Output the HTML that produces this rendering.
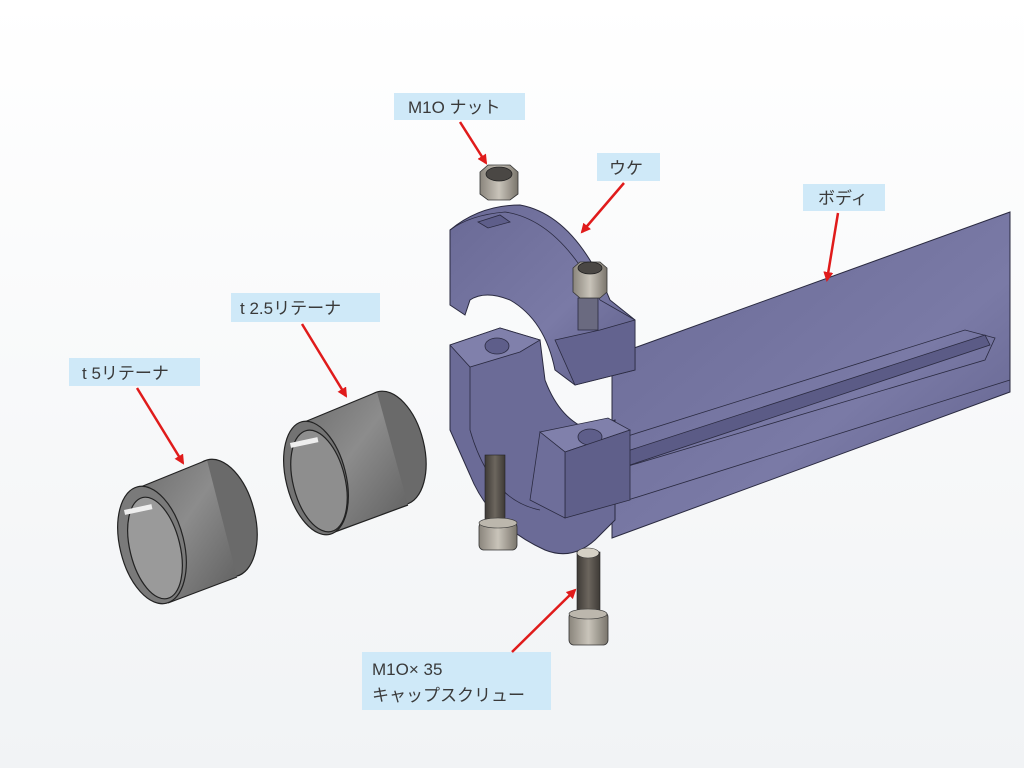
<!DOCTYPE html>
<html><head><meta charset="utf-8"><style>
html,body{margin:0;padding:0;background:#fff;}
svg{display:block}
text{font-family:"Liberation Sans","Noto Sans CJK JP",sans-serif;fill:#3a3a3a;font-size:17px}
</style></head><body>
<svg width="1024" height="768" viewBox="0 0 1024 768" xmlns="http://www.w3.org/2000/svg">
<defs>
<linearGradient id="bg" x1="0" y1="0" x2="0" y2="1"><stop offset="0" stop-color="#ffffff"/><stop offset="1" stop-color="#f1f3f5"/></linearGradient>
<linearGradient id="cyl" x1="0" y1="0" x2="1" y2="1"><stop offset="0" stop-color="#6e6e6e"/><stop offset="0.45" stop-color="#8c8c8c"/><stop offset="1" stop-color="#5e5e5e"/></linearGradient>
<linearGradient id="body" x1="0" y1="0" x2="1" y2="1"><stop offset="0" stop-color="#6a6a96"/><stop offset="0.6" stop-color="#7a7aa6"/><stop offset="1" stop-color="#5d5d88"/></linearGradient>
<linearGradient id="scr" x1="0" y1="0" x2="1" y2="0"><stop offset="0" stop-color="#3e3a36"/><stop offset="0.5" stop-color="#6c665e"/><stop offset="1" stop-color="#3e3a36"/></linearGradient>
<linearGradient id="head" x1="0" y1="0" x2="1" y2="0"><stop offset="0" stop-color="#8a857c"/><stop offset="0.5" stop-color="#c9c4ba"/><stop offset="1" stop-color="#7a756c"/></linearGradient>
<marker id="ah" markerWidth="10" markerHeight="10" refX="8" refY="5" orient="auto" markerUnits="userSpaceOnUse"><path d="M0,0 L10,5 L0,10 z" fill="#e01b1b"/></marker>
</defs>
<rect width="1024" height="768" fill="url(#bg)"/>

<!-- body beam -->
<path d="M612,356 L1010,212 L1010,392 L612,538 Z" fill="url(#body)" stroke="#2a2a40" stroke-width="1"/>
<path d="M615,455 L985,335 L990,345 L615,470 Z" fill="#5b5b86" stroke="#2a2a40" stroke-width="0.8"/>
<path d="M615,440 L965,330 L995,338 L985,360 L615,470" fill="none" stroke="#2a2a40" stroke-width="0.8"/>
<path d="M612,505 L1010,380" stroke="#2a2a40" stroke-width="0.8"/>

<!-- lower clamp -->
<path d="M450,345 L500,328 L540,340 L545,380 Q560,420 590,430 L615,420 L615,520 L600,535 Q575,562 545,550 Q490,525 470,475 L450,430 Z" fill="#6b6b97" stroke="#2a2a40" stroke-width="1"/>
<path d="M450,345 L500,328 L540,340 L520,352 L470,367 Z" fill="#8080ab" stroke="#2a2a40" stroke-width="0.8"/>
<ellipse cx="497" cy="346" rx="12" ry="8" fill="#5e5e8a" stroke="#2a2a40" stroke-width="0.8"/>
<path d="M470,367 L470,430 Q490,500 540,510" fill="none" stroke="#2a2a40" stroke-width="0.8"/>
<path d="M540,432 L608,418 L630,430 L565,452 Z" fill="#8080ab" stroke="#2a2a40" stroke-width="0.8"/>
<ellipse cx="590" cy="437" rx="12" ry="8" fill="#5e5e8a" stroke="#2a2a40" stroke-width="0.8"/>
<path d="M565,452 L630,430 L630,500 L565,518 Z" fill="#5f5f8a" stroke="#2a2a40" stroke-width="0.8"/>
<path d="M540,432 L565,452 L565,518 L530,500 Z" fill="#6e6e9a" stroke="#2a2a40" stroke-width="0.8"/>

<!-- upper clamp (ウケ) -->
<path d="M450,230 Q480,205 520,205 Q575,215 610,300 L635,320 L635,370 L575,385 L555,370 Q545,320 510,300 Q485,290 470,300 L465,315 L450,305 Z" fill="url(#body)" stroke="#2a2a40" stroke-width="1"/>
<path d="M450,230 Q470,215 505,212 Q560,220 600,300 L635,320" fill="none" stroke="#2a2a40" stroke-width="0.8"/>
<path d="M478,222 L500,215 L510,222 L488,228 Z" fill="#5e5e8a" stroke="#2a2a40" stroke-width="0.8"/>
<path d="M555,340 L600,330 L635,320 L635,370 L575,385 Z" fill="#63638f" stroke="#2a2a40" stroke-width="0.8"/>
<path d="M578,298 L598,298 L598,330 L578,330 Z" fill="#6a6a80" stroke="#2a2a40" stroke-width="0.8"/>
<path d="M573,268 L580,262 L600,262 L607,268 L607,292 L600,298 L580,298 L573,292 Z" fill="url(#head)" stroke="#333" stroke-width="0.8"/>
<ellipse cx="590" cy="268" rx="12" ry="6" fill="#4a4744" stroke="#222" stroke-width="0.8"/>

<!-- top nut -->
<path d="M480,172 L488,165 L510,165 L518,172 L518,194 L510,200 L488,200 L480,194 Z" fill="url(#head)" stroke="#333" stroke-width="0.8"/>
<ellipse cx="499" cy="174" rx="13" ry="7" fill="#4a4744" stroke="#222" stroke-width="0.8"/>

<!-- screws -->
<rect x="485" y="455" width="20" height="68" fill="url(#scr)" stroke="#222" stroke-width="0.6"/>
<rect x="479" y="522" width="38" height="28" rx="5" fill="url(#head)" stroke="#333" stroke-width="0.8"/>
<ellipse cx="498" cy="523" rx="19" ry="5" fill="#bcb7ad" stroke="#333" stroke-width="0.6"/>
<rect x="577" y="552" width="23" height="64" fill="url(#scr)" stroke="#222" stroke-width="0.6"/>
<ellipse cx="588" cy="553" rx="11" ry="5" fill="#d6d1c6" stroke="#333" stroke-width="0.6"/>
<rect x="569" y="612" width="39" height="33" rx="5" fill="url(#head)" stroke="#333" stroke-width="0.8"/>
<ellipse cx="588" cy="614" rx="19" ry="5" fill="#bcb7ad" stroke="#333" stroke-width="0.6"/>

<!-- t5 retainer -->
<g stroke="#222" stroke-width="1.2">
<ellipse cx="222" cy="518" rx="33" ry="60" transform="rotate(-14 222 518)" fill="#6a6a6a"/>
<path d="M138,488 L207,460 L237,577 L168,603 Z" fill="url(#cyl)" stroke="none"/>
<line x1="138" y1="488" x2="207" y2="460"/><line x1="168" y1="603" x2="237" y2="577"/>
<ellipse cx="152" cy="545" rx="32" ry="60" transform="rotate(-14 152 545)" fill="#7a7a7a"/>
<ellipse cx="155" cy="548" rx="25" ry="52" transform="rotate(-14 155 548)" fill="#9a9a9a"/>
</g>
<rect x="124" y="510" width="28" height="5" fill="#eee" transform="rotate(-12 124 510)"/>

<!-- t2.5 retainer -->
<g stroke="#222" stroke-width="1.2">
<ellipse cx="392" cy="448" rx="32" ry="58" transform="rotate(-14 392 448)" fill="#6a6a6a"/>
<path d="M302,423 L377,392 L408,505 L332,533 Z" fill="url(#cyl)" stroke="none"/>
<line x1="302" y1="423" x2="377" y2="392"/><line x1="332" y1="533" x2="408" y2="505"/>
<ellipse cx="316" cy="478" rx="30" ry="58" transform="rotate(-14 316 478)" fill="#737373"/>
<ellipse cx="319" cy="481" rx="26" ry="52" transform="rotate(-14 319 481)" fill="#8e8e8e"/>
</g>
<rect x="290" y="443" width="28" height="5" fill="#eee" transform="rotate(-12 290 443)"/>

<!-- labels -->
<rect x="394" y="93" width="131" height="27" fill="#cfe9f8"/>
<text x="408" y="113">M1O ナット</text>
<rect x="597" y="153" width="63" height="28" fill="#cfe9f8"/>
<text x="609" y="174">ウケ</text>
<rect x="803" y="184" width="82" height="27" fill="#cfe9f8"/>
<text x="818" y="204">ボディ</text>
<rect x="231" y="293" width="149" height="29" fill="#cfe9f8"/>
<text x="240" y="314">t 2.5リテーナ</text>
<rect x="69" y="358" width="131" height="28" fill="#cfe9f8"/>
<text x="82" y="379">t 5リテーナ</text>
<rect x="362" y="652" width="189" height="58" fill="#cfe9f8"/>
<text x="372" y="675">M1O× 35</text>
<text x="372" y="701">キャップスクリュー</text>

<!-- arrows -->
<g stroke="#e01b1b" stroke-width="2.5" fill="none">
<line x1="460" y1="122" x2="486" y2="163" marker-end="url(#ah)"/>
<line x1="624" y1="183" x2="582" y2="232" marker-end="url(#ah)"/>
<line x1="838" y1="213" x2="827" y2="280" marker-end="url(#ah)"/>
<line x1="302" y1="324" x2="346" y2="396" marker-end="url(#ah)"/>
<line x1="137" y1="388" x2="183" y2="463" marker-end="url(#ah)"/>
<line x1="512" y1="652" x2="575" y2="590" marker-end="url(#ah)"/>
</g>
</svg>
</body></html>
